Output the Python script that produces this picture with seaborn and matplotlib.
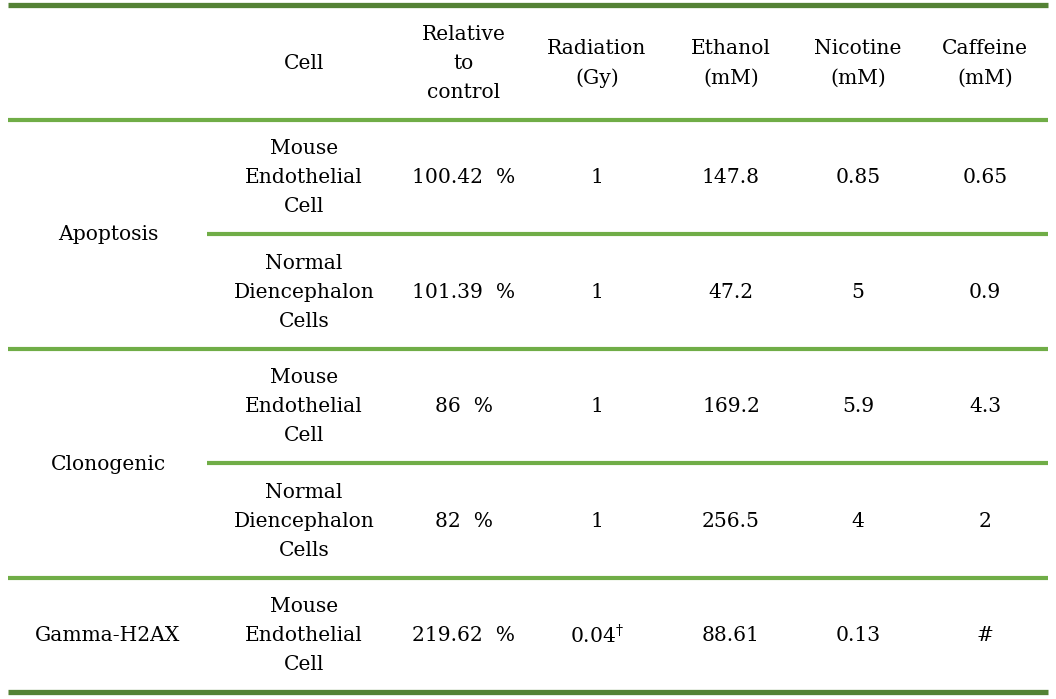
import matplotlib
matplotlib.use("Agg")
import matplotlib.pyplot as plt
import seaborn as sns

# Dati della tabella
intestazioni = ["Cell", "Relative\nto\ncontrol", "Radiation\n(Gy)", "Ethanol\n(mM)", "Nicotine\n(mM)", "Caffeine\n(mM)"]
gruppi = ["Apoptosis", "Clonogenic", "Gamma-H2AX"]
righe_per_gruppo = [2, 2, 1]
celle = ["Mouse\nEndothelial\nCell", "Normal\nDiencephalon\nCells",
         "Mouse\nEndothelial\nCell", "Normal\nDiencephalon\nCells",
         "Mouse\nEndothelial\nCell"]
relativo = ["100.42  %", "101.39  %", "86  %", "82  %", "219.62  %"]
radiazione = ["1", "1", "1", "1", "0.04$^{\\dagger}$"]
etanolo = ["147.8", "47.2", "169.2", "256.5", "88.61"]
nicotina = ["0.85", "5", "5.9", "4", "0.13"]
caffeina = ["0.65", "0.9", "4.3", "2", "#"]

sns.set_style("white")
plt.rcParams['font.family'] = ['DejaVu Serif']
plt.rcParams['mathtext.fontset'] = 'dejavuserif'
plt.rcParams['text.color'] = 'black'

verde_scuro = "#548235"
verde_chiaro = "#70AD47"

fig = plt.figure(figsize=(10.56, 6.99), dpi=100)
ax = fig.add_axes([0, 0, 1, 1])
ax.set_xlim(0, 1056)
ax.set_ylim(699, 0)
ax.axis("off")

# layout (pixel)
x_sin, x_des = 8, 1048
x_gruppo = 108
x_colonne = [304, 464, 597, 731, 858, 985]
x_sotto = 207
y_top = 5
h_riga = 114.5
fs = 14.6
ls = 1.68

# intestazione
for x, t in zip(x_colonne, intestazioni):
    ax.text(x, y_top + h_riga / 2 + 1, t, ha="center", va="center", fontsize=fs, linespacing=ls, color="black")

ax.plot([x_sin, x_des], [y_top, y_top], color=verde_scuro, lw=3.8, solid_capstyle="butt")
ax.plot([x_sin, x_des], [y_top + h_riga, y_top + h_riga], color=verde_chiaro, lw=3, solid_capstyle="butt")

colonne_dati = [celle, relativo, radiazione, etanolo, nicotina, caffeina]
i = 0
for g, n in zip(gruppi, righe_per_gruppo):
    y0 = y_top + h_riga * (i + 1)
    ax.text(x_gruppo, y0 + n * h_riga / 2 + 1, g, ha="center", va="center", fontsize=fs, color="black")
    for k in range(n):
        yc = y0 + h_riga * (k + 0.5) + 1
        for x, col in zip(x_colonne, colonne_dati):
            ax.text(x, yc, col[i + k], ha="center", va="center", fontsize=fs, linespacing=ls, color="black")
        if k < n - 1:
            yl = y0 + h_riga * (k + 1)
            ax.plot([x_sotto, x_des], [yl, yl], color=verde_chiaro, lw=3, solid_capstyle="butt")
    i += n
    yb = y_top + h_riga * (i + 1)
    if i < len(celle):
        ax.plot([x_sin, x_des], [yb, yb], color=verde_chiaro, lw=3, solid_capstyle="butt")
    else:
        ax.plot([x_sin, x_des], [yb, yb], color=verde_scuro, lw=3.8, solid_capstyle="butt")

plt.savefig("out.png", dpi=100)
